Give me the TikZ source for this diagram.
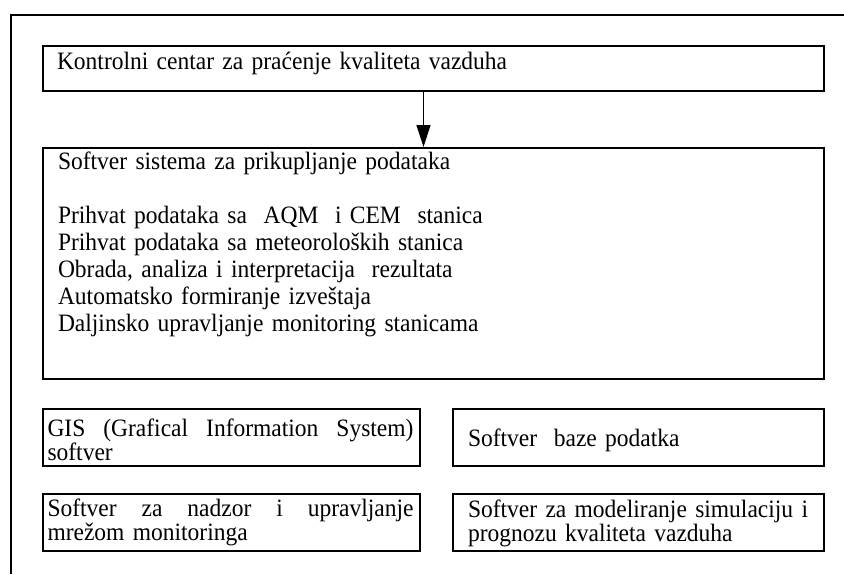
\documentclass[tikz,border=0pt]{standalone}
\usepackage{fontspec}
\setmainfont{Liberation Serif}[FakeStretch=0.94]
\usetikzlibrary{arrows.meta}
\begin{document}
\begin{tikzpicture}[x=1pt,y=-1pt,
  box/.style={draw, line width=2pt, anchor=north west, inner ysep=0pt, align=left},
  bigfont/.style={font=\fontsize{25}{27}\selectfont},
  smallfont/.style={font=\fontsize{25}{24.5}\selectfont},
  frame/.style={line width=2pt},
  flow/.style={line width=1.3pt, -{Triangle[width=14pt,length=22pt]}}]
\useasboundingbox (0,0) rectangle (844,574);
\draw[frame] (11,574) -- (11,15) -- (844,15);
\node[box, bigfont, inner xsep=14pt, text width=753pt, text height=23pt, text depth=22pt] (top) at (42,45)
  {Kontrolni centar za praćenje kvaliteta vazduha};
\node[box, bigfont, inner xsep=15pt, text width=751pt, text height=21pt, text depth=210pt] (big) at (42,147)
  {Softver sistema za prikupljanje podataka\\[27pt]
   Prihvat podataka sa\ \ AQM\ \ i CEM\ \ stanica\\
   Prihvat podataka sa meteoroloških stanica\\
   Obrada, analiza i interpretacija\ \ rezultata\\
   Automatsko formiranje izveštaja\\
   Daljinsko upravljanje monitoring stanicama};
\node[box, smallfont, inner xsep=4.5pt, text width=368pt, text height=27pt, text depth=30pt] (gis) at (42,408)
  {\hbox to 366pt{GIS\hfill(Grafical\hfill Information\hfill System)}\\softver};
\node[box, smallfont, inner xsep=4.5pt, text width=368pt, text height=22pt, text depth=35pt] (nadzor) at (42,493)
  {\hbox to 366pt{Softver\hfill za\hfill nadzor\hfill i\hfill upravljanje}\\mrežom monitoringa};
\node[box, smallfont, inner xsep=15pt, text width=341pt, text height=37pt, text depth=20pt] (baza) at (452,408)
  {Softver\ \ baze podatka};
\node[box, smallfont, inner xsep=15pt, text width=341pt, text height=23pt, text depth=34pt] (model) at (452,493)
  {\hbox to 340pt{Softver\hfill za\hfill modeliranje\hfill simulaciju\hfill i}\\prognozu kvaliteta vazduha};
\draw[flow] ([xshift=-10pt]top.south) -- ([xshift=-10pt]big.north);
\end{tikzpicture}
\end{document}
